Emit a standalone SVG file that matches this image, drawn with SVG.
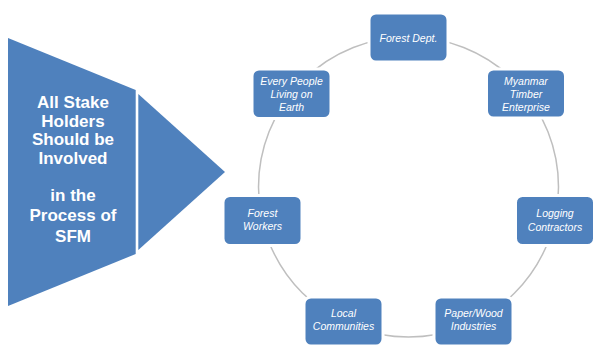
<svg xmlns="http://www.w3.org/2000/svg" width="594" height="345" viewBox="0 0 594 345">
  <style>
    .shape { fill: #4f81bd; }
    .box { fill: #4f81bd; stroke: #ffffff; stroke-width: 3; }
    .title { font-family: "Liberation Sans", Arial, sans-serif; font-weight: bold; font-size: 17px; fill: #ffffff; text-anchor: middle; }
    .label { font-family: "Liberation Sans", Arial, sans-serif; font-style: italic; font-size: 10.5px; fill: #ffffff; text-anchor: middle; }
    .ring { fill: none; stroke: #bfbfbf; stroke-width: 1.5; }
  </style>

  <!-- Left banner: trapezoid plus arrow head -->
  <g id="banner">
    <polygon class="shape" points="8,38 135.7,90 135.7,254 8,306"/>
    <polygon class="shape" points="138.3,94 225,172 138.3,250"/>
    <text class="title" x="73" y="108">All Stake</text>
    <text class="title" x="73" y="127">Holders</text>
    <text class="title" x="73" y="145">Should be</text>
    <text class="title" x="73" y="164">Involved</text>
    <text class="title" x="73" y="201">in the</text>
    <text class="title" x="73" y="221">Process of</text>
    <text class="title" x="73" y="242">SFM</text>
  </g>

  <!-- Cycle ring linking the stakeholders -->
  <g id="connectors">
    <circle class="ring" cx="408.5" cy="187" r="150"/>
  </g>

  <g id="forest-dept">
    <rect class="box" x="369" y="13" width="79" height="49" rx="7"/>
    <text class="label" x="408.5" y="41.5">Forest Dept.</text>
  </g>

  <g id="myanmar-timber">
    <rect class="box" x="486.5" y="69" width="79" height="49" rx="7"/>
    <text class="label" x="526" y="84.5">Myanmar</text>
    <text class="label" x="526" y="97.5">Timber</text>
    <text class="label" x="526" y="110.5">Enterprise</text>
  </g>

  <g id="logging">
    <rect class="box" x="515.5" y="195.5" width="79" height="50" rx="7"/>
    <text class="label" x="555" y="217">Logging</text>
    <text class="label" x="555" y="231">Contractors</text>
  </g>

  <g id="paper-wood">
    <rect class="box" x="434" y="297" width="79" height="49" rx="7"/>
    <text class="label" x="473.5" y="317">Paper/Wood</text>
    <text class="label" x="473.5" y="330">Industries</text>
  </g>

  <g id="local-communities">
    <rect class="box" x="304" y="297" width="79" height="49" rx="7"/>
    <text class="label" x="343.5" y="317">Local</text>
    <text class="label" x="343.5" y="330">Communities</text>
  </g>

  <g id="forest-workers">
    <rect class="box" x="223" y="195.5" width="79" height="50" rx="7"/>
    <text class="label" x="262.5" y="217">Forest</text>
    <text class="label" x="262.5" y="230">Workers</text>
  </g>

  <g id="every-people">
    <rect class="box" x="252" y="69" width="79" height="49.5" rx="7"/>
    <text class="label" x="291.5" y="84.5">Every People</text>
    <text class="label" x="291.5" y="97.5">Living on</text>
    <text class="label" x="291.5" y="110.5">Earth</text>
  </g>
</svg>
